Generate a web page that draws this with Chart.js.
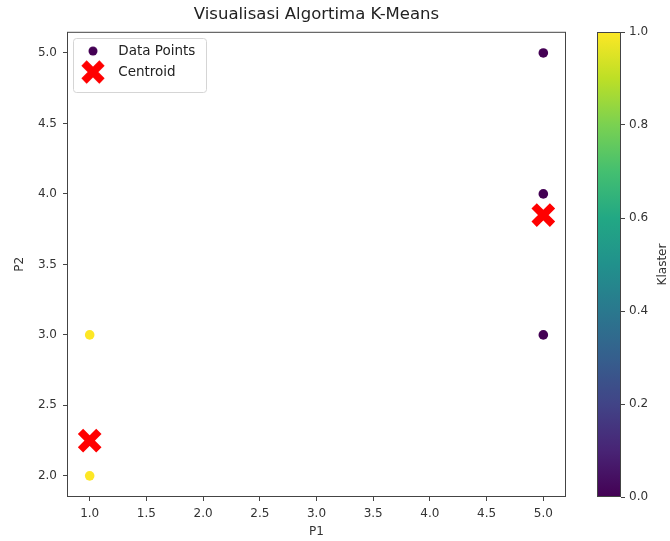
<!DOCTYPE html>
<html>
<head>
<meta charset="utf-8">
<script src="https://cdn.jsdelivr.net/npm/chart.js@4.4.1/dist/chart.umd.min.js"></script>
<style>
body{margin:0;background:#fff;width:670px;height:541px;position:relative;overflow:hidden}
#main{position:absolute;left:0;top:0;width:633px;height:541px}
#cbar{position:absolute;left:590px;top:0;width:80px;height:541px}
</style>
</head>
<body>
<canvas id="main" width="633" height="541"></canvas>
<canvas id="cbar" width="80" height="541"></canvas>
<script>
// ===== DATA =====
let p1=[5,5,5,1,1]        // P1 of each data point
let p2=[5,4,3,3,2]        // P2 of each data point
let klaster=[0,0,0,1,1]   // cluster label of each point
let centP1=[1,5]          // centroid P1
let centP2=[2.25,3.85]    // centroid P2
let xTicks=[1.0,1.5,2.0,2.5,3.0,3.5,4.0,4.5,5.0]
let yTicks=[2.0,2.5,3.0,3.5,4.0,4.5,5.0]
let cbTicks=[0.0,0.2,0.4,0.6,0.8,1.0]

// viridis stops for the colour map
const viridis=['#440154','#482475','#414487','#355f8d','#2a788e','#21918c','#22a884','#44bf70','#7ad151','#bddf26','#fde725']
function cmap(v){ return viridis[Math.round(v*10)] }

Chart.defaults.font.family='"DejaVu Sans", sans-serif'
Chart.defaults.color='#333'

// box round the plot area
const frame={
    id:'frame',
    afterDraw(c){
        let a=c.chartArea, ctx=c.ctx
        ctx.save()
        ctx.strokeStyle='#444'
        ctx.lineWidth=1
        ctx.strokeRect(a.left+0.5,a.top+0.5,a.right-a.left-1,a.bottom-a.top-1)
        ctx.restore()
    }
}

// chartArea legends get top=0 from the layout, put it back inside the plot
// and draw the white rounded box behind the items
const legendBox={
    id:'legendBox',
    afterLayout(c){
        let lg=c.legend, a=c.chartArea
        lg.top=a.top+5
        lg.bottom=a.bottom
    },
    beforeDraw(c){
        let hb=c.legend && c.legend.legendHitBoxes
        if(!hb || !hb.length) return
        let l=Math.min(...hb.map(b=>b.left)), t=Math.min(...hb.map(b=>b.top))
        let r=Math.max(...hb.map(b=>b.left+b.width)), btm=Math.max(...hb.map(b=>b.top+b.height))
        let ctx=c.ctx
        ctx.save()
        ctx.fillStyle='rgba(255,255,255,0.8)'
        ctx.strokeStyle='#d5d5d5'
        ctx.lineWidth=1
        ctx.beginPath()
        ctx.roundRect(Math.round(l-1.5)+0.5,Math.round(t-6.5)+0.5,Math.round(r-l+12.5),Math.round(btm-t+19.5),3)
        ctx.fill()
        ctx.stroke()
        ctx.restore()
    }
}

// legend markers
function makeIcon(kind){
    let cv=document.createElement('canvas')
    cv.width=28; cv.height=28
    let g=cv.getContext('2d')
    if(kind=='dot'){
        g.fillStyle=cmap(0)
        g.beginPath(); g.arc(14,14,4.5,0,Math.PI*2); g.fill()
    }else{
        g.strokeStyle='#ff0000'; g.lineWidth=7.5
        g.beginPath(); g.moveTo(5,5); g.lineTo(23,23); g.moveTo(23,5); g.lineTo(5,23); g.stroke()
    }
    return cv
}
const icons=[makeIcon('dot'),makeIcon('x')]

const tickGrid={display:true,drawOnChartArea:false,drawTicks:true,tickLength:4,color:'#444'}

new Chart(document.getElementById('main'),{
    type:'scatter',
    data:{
        datasets:[{
            label:'Data Points',
            data:p1.map((x,i)=>({x:x,y:p2[i]})),
            pointBackgroundColor:klaster.map(cmap),
            pointBorderWidth:0,
            pointRadius:4.8,
            pointHoverRadius:4.8
        },{
            label:'Centroid',
            data:centP1.map((x,i)=>({x:x,y:centP2[i]})),
            pointStyle:'crossRot',
            pointBorderColor:'#ff0000',
            pointBorderWidth:7.5,
            pointRadius:13,
            pointHoverRadius:13
        }]
    },
    options:{
        responsive:false,
        animation:false,
        layout:{padding:0},
        plugins:{
            title:{display:true,text:'Visualisasi Algortima K-Means',color:'#222',font:{size:16.5,weight:'normal'},padding:{top:5,bottom:7}},
            legend:{
                position:'chartArea',
                align:'start',
                labels:{
                    usePointStyle:true,
                    pointStyleWidth:37,
                    padding:7.5,
                    font:{size:13.5},
                    color:'#222',
                    generateLabels:c=>c.data.datasets.map((d,i)=>({
                        text:d.label,datasetIndex:i,pointStyle:icons[i],
                        fillStyle:'transparent',strokeStyle:'transparent',lineWidth:0,fontColor:'#222'
                    }))
                }
            },
            tooltip:{enabled:false}
        },
        scales:{
            x:{
                type:'linear',min:0.8,max:5.2,
                afterBuildTicks:s=>{s.ticks=xTicks.map(v=>({value:v}))},
                afterFit:s=>{s.height=44},
                ticks:{callback:v=>v.toFixed(1),font:{size:12},padding:6,maxRotation:0},
                grid:tickGrid,
                border:{display:false},
                title:{display:true,text:'P1',font:{size:12},padding:{top:2,bottom:2}}
            },
            y:{
                type:'linear',min:1.85,max:5.15,
                afterBuildTicks:s=>{s.ticks=yTicks.map(v=>({value:v}))},
                afterFit:s=>{s.width=67},
                ticks:{callback:v=>v.toFixed(1),font:{size:12},padding:6},
                grid:tickGrid,
                border:{display:false},
                title:{display:true,text:'P2',font:{size:12},padding:{top:13,bottom:0}}
            },
            // empty right side so the title centres over the plot
            yR:{
                type:'linear',position:'right',
                afterFit:s=>{s.width=67},
                ticks:{display:false},
                grid:{display:false},
                border:{display:false}
            }
        }
    },
    plugins:[legendBox,frame]
})

// ===== COLOUR BAR =====
const cbLabel={
    id:'cbLabel',
    afterDraw(c){
        let a=c.chartArea, ctx=c.ctx
        ctx.save()
        ctx.translate(73,(a.top+a.bottom)/2)
        ctx.rotate(-Math.PI/2)
        ctx.fillStyle='#333'
        ctx.font='12px "DejaVu Sans"'
        ctx.textAlign='center'
        ctx.textBaseline='middle'
        ctx.fillText('Klaster',0,0)
        ctx.restore()
    }
}

new Chart(document.getElementById('cbar'),{
    type:'bar',
    data:{
        labels:[''],
        datasets:[{
            data:[cbTicks[cbTicks.length-1]],
            barPercentage:1,
            categoryPercentage:1,
            backgroundColor:ctx=>{
                let a=ctx.chart.chartArea
                if(!a) return viridis[5]
                let g=ctx.chart.ctx.createLinearGradient(0,a.bottom,0,a.top)
                viridis.forEach((col,i)=>g.addColorStop(i/10,col))
                return g
            }
        }]
    },
    options:{
        responsive:false,
        animation:false,
        layout:{padding:{left:7,right:0,top:32,bottom:44}},
        plugins:{legend:{display:false},tooltip:{enabled:false}},
        scales:{
            x:{display:false},
            y:{
                position:'right',min:0,max:1,
                afterBuildTicks:s=>{s.ticks=cbTicks.map(v=>({value:v}))},
                afterFit:s=>{s.width=49},
                ticks:{callback:v=>v.toFixed(1),font:{size:12},padding:4},
                grid:tickGrid,
                border:{display:false}
            }
        }
    },
    plugins:[frame,cbLabel]
})
</script>
</body>
</html>
